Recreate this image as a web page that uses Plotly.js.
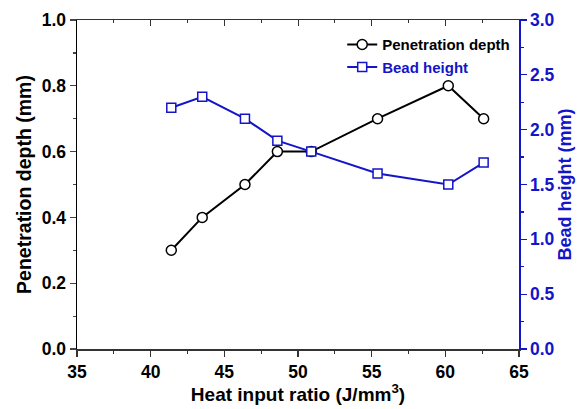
<!DOCTYPE html>
<html><head><meta charset="utf-8">
<script src="https://cdn.plot.ly/plotly-3.0.1.min.js"></script>
<style>html,body{margin:0;padding:0;background:#fff}</style>
</head><body>
<div id="chart" style="width:581px;height:409px"></div>
<script>
const heatInput = [41.4, 43.5, 46.4, 48.6, 50.9, 55.4, 60.2, 62.6];
const penetrationDepth = [0.3, 0.4, 0.5, 0.6, 0.6, 0.7, 0.8, 0.7];
const beadHeight = [2.2, 2.3, 2.1, 1.9, 1.8, 1.6, 1.5, 1.7];
const seriesNames = ['Penetration depth', 'Bead height'];
const xTickVals = [35, 40, 45, 50, 55, 60, 65];
const yTickVals = [0, 0.2, 0.4, 0.6, 0.8, 1.0];
const y2TickVals = [0, 0.5, 1.0, 1.5, 2.0, 2.5, 3.0];

const BLUE = '#1414c8';
const FONT = 'Liberation Sans, Arial, sans-serif';
const bold = v => '<b>' + v + '</b>';

const data = [
  {x: heatInput, y: penetrationDepth, name: bold(seriesNames[0]), type: 'scatter', mode: 'lines+markers',
   line: {color: '#000', width: 2}, marker: {symbol: 'circle', size: 10, color: '#fff', line: {color: '#000', width: 1.5}},
   xaxis: 'x', yaxis: 'y'},
  {x: heatInput, y: beadHeight, name: '<b><span style="color:' + BLUE + '">' + seriesNames[1] + '</span></b>', type: 'scatter', mode: 'lines+markers',
   line: {color: BLUE, width: 2}, marker: {symbol: 'square', size: 9, color: '#fff', line: {color: BLUE, width: 1.5}},
   xaxis: 'x', yaxis: 'y2'},
  {x: [], y: [], xaxis: 'x2', yaxis: 'y', showlegend: false, hoverinfo: 'skip', type: 'scatter'}
];

const layout = {
  width: 581, height: 409,
  margin: {l: 77, r: 62, t: 20, b: 60},
  paper_bgcolor: '#fff', plot_bgcolor: '#fff',
  font: {family: FONT, size: 16, color: '#000'},
  showlegend: true,
  legend: {x: 0.6, y: 0.975, xanchor: 'left', yanchor: 'top', bgcolor: 'rgba(0,0,0,0)',
           font: {family: FONT, size: 15, color: '#000'}, tracegroupgap: 0},
  xaxis: {range: [35, 65], tickmode: 'array', tickvals: xTickVals, ticktext: xTickVals.map(v => bold(v)),
          showgrid: false, zeroline: false,
          showline: true, linecolor: '#333', linewidth: 1.5, ticks: 'outside', ticklen: 6, tickwidth: 1.2, tickcolor: '#333',
          minor: {dtick: 2.5, tick0: 35, ticks: 'outside', ticklen: 3, tickcolor: '#333'},
          tickfont: {family: FONT, size: 17.5},
          title: {text: '<b>Heat input ratio (J/mm<sup>3</sup>)</b>', font: {family: FONT, size: 19}, standoff: 5}},
  xaxis2: {range: [35, 65], dtick: 5, tick0: 35, overlaying: 'x', side: 'top', anchor: 'y', showgrid: false, zeroline: false,
           showline: true, linecolor: '#333', linewidth: 1.5, ticks: 'inside', ticklen: 6, tickcolor: '#333',
           minor: {dtick: 2.5, ticks: 'inside', ticklen: 3, tickcolor: '#333'},
           showticklabels: false},
  yaxis: {range: [0, 1], tickmode: 'array', tickvals: yTickVals, ticktext: yTickVals.map(v => bold(v.toFixed(1))),
          showgrid: false, zeroline: false,
          showline: true, linecolor: '#000', linewidth: 1.5, ticks: 'outside', ticklen: 6, tickwidth: 1.2,
          minor: {dtick: 0.1, tick0: 0, ticks: 'outside', ticklen: 3},
          tickfont: {family: FONT, size: 17.5},
          title: {text: '<b>Penetration depth (mm)</b>', font: {family: FONT, size: 19.5}, standoff: 5}},
  yaxis2: {range: [0, 3], tickmode: 'array', tickvals: y2TickVals, ticktext: y2TickVals.map(v => bold(v.toFixed(1))),
           overlaying: 'y', side: 'right', anchor: 'x',
           showgrid: false, zeroline: false,
           showline: true, linecolor: BLUE, linewidth: 1.5, ticks: 'outside', ticklen: 6, tickwidth: 1.2, tickcolor: BLUE,
           minor: {dtick: 0.25, tick0: 0, ticks: 'outside', ticklen: 3, tickcolor: BLUE},
           tickfont: {family: FONT, size: 17.5, color: BLUE},
           title: {text: '<b>Bead height (mm)</b>', font: {family: FONT, size: 18, color: BLUE}, standoff: 4}}
};

Plotly.newPlot('chart', data, layout, {displayModeBar: false, staticPlot: true});
</script>
</body></html>
